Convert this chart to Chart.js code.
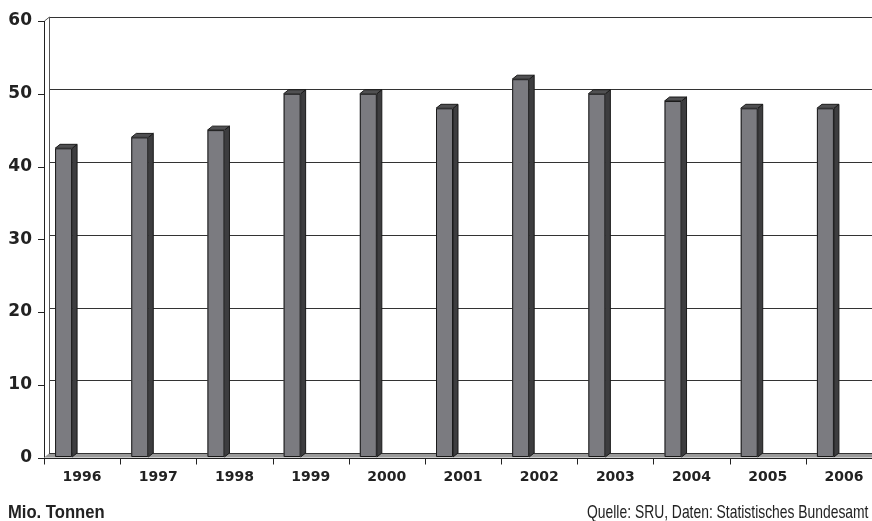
<!DOCTYPE html>
<html>
<head>
<meta charset="utf-8">
<script src="https://cdn.jsdelivr.net/npm/chart.js@4.4.1/dist/chart.umd.min.js"></script>
<style>
    html, body { margin: 0; padding: 0; background: #fff; }
    #wrap { position: relative; width: 872px; height: 521px; overflow: hidden; }
    #chart { position: absolute; left: 0; top: 0; }
    .note { position: absolute; top: 501px; font-family: "Liberation Sans Narrow", "Liberation Sans", Arial, sans-serif; font-size: 19px; line-height: 22px; color: #222; white-space: nowrap; }
    #unit { left: 8px; font-weight: bold; transform: scaleX(0.875); transform-origin: left center; }
    #source { right: 4px; transform: scaleX(0.73); transform-origin: right center; }
</style>
</head>
<body>
<div id="wrap">
    <canvas id="chart" width="887" height="521"></canvas>
    <div class="note" id="unit">Mio. Tonnen</div>
    <div class="note" id="source">Quelle: SRU, Daten: Statistisches Bundesamt</div>
</div>
<script>
const years = ['1996', '1997', '1998', '1999', '2000', '2001', '2002', '2003', '2004', '2005', '2006'];
const tonnes = [42.5, 44, 45, 50, 50, 48, 52, 50, 49, 48, 48];
const yTicks = [0, 10, 20, 30, 40, 50, 60];

// 3D look: front plane sits left/down of the back wall
const DX = 5;
const DY = 4;
const BAR_SHIFT = -18.5;

const pseudo3d = {
    id: 'pseudo3d',
    beforeDatasetsDraw(chart) {
        const ctx = chart.ctx;
        const area = chart.chartArea;
        const yScale = chart.scales.y;
        const base = yScale.getPixelForValue(0);
        const top = yScale.getPixelForValue(60);
        ctx.save();

        // floor
        ctx.fillStyle = '#9a9a9a';
        ctx.beginPath();
        ctx.moveTo(area.left, base);
        ctx.lineTo(area.right + 20, base);
        ctx.lineTo(area.right + 20, base + DY);
        ctx.lineTo(area.left - DX, base + DY);
        ctx.closePath();
        ctx.fill();
        ctx.strokeStyle = '#333';
        ctx.lineWidth = 1;
        ctx.beginPath();
        ctx.moveTo(area.left, base);
        ctx.lineTo(area.right + 20, base);
        ctx.stroke();

        // back wall edge and front value axis
        ctx.strokeStyle = '#555';
        ctx.beginPath();
        ctx.moveTo(area.left + 0.5, top);
        ctx.lineTo(area.left + 0.5, base);
        ctx.moveTo(area.left - DX + 0.5, top + DY);
        ctx.lineTo(area.left + 0.5, top);
        ctx.stroke();
        ctx.strokeStyle = '#222';
        ctx.beginPath();
        ctx.moveTo(area.left - DX + 0.5, top + DY);
        ctx.lineTo(area.left - DX + 0.5, base + DY);
        yTicks.forEach(v => {
            const py = Math.round(yScale.getPixelForValue(v) + DY) + 0.5;
            ctx.moveTo(area.left - DX - 6, py);
            ctx.lineTo(area.left - DX, py);
        });
        ctx.stroke();

        // front category axis
        const axisY = Math.round(base + DY) + 0.5;
        ctx.beginPath();
        ctx.moveTo(area.left - DX, axisY);
        ctx.lineTo(area.right + 20, axisY);
        const step = (area.right - area.left) / years.length;
        for (let i = 0; i <= years.length; i++) {
            const px = Math.round(area.left + i * step - DX) + 0.5;
            ctx.moveTo(px, axisY);
            ctx.lineTo(px, axisY + 6);
        }
        ctx.stroke();
        ctx.restore();
    },
    afterDatasetsDraw(chart) {
        const ctx = chart.ctx;
        const meta = chart.getDatasetMeta(0);
        ctx.save();
        ctx.lineWidth = 1;
        ctx.strokeStyle = '#1a1a1a';
        ctx.lineJoin = 'round';
        meta.data.forEach(bar => {
            const { x, y, base, width } = bar.getProps(['x', 'y', 'base', 'width'], true);
            const L = x - width / 2 + BAR_SHIFT;
            const R = L + width;
            // right side
            ctx.fillStyle = '#3d3d3f';
            ctx.beginPath();
            ctx.moveTo(R - DX, y + DY);
            ctx.lineTo(R, y);
            ctx.lineTo(R, base);
            ctx.lineTo(R - DX, base + DY);
            ctx.closePath();
            ctx.fill();
            ctx.stroke();
            // top
            ctx.fillStyle = '#505052';
            ctx.beginPath();
            ctx.moveTo(L - DX, y + DY);
            ctx.lineTo(L, y);
            ctx.lineTo(R, y);
            ctx.lineTo(R - DX, y + DY);
            ctx.closePath();
            ctx.fill();
            ctx.stroke();
            // front
            ctx.fillStyle = '#7b7b80';
            ctx.fillRect(L - DX, y + DY, width, base - y);
            ctx.strokeRect(L - DX + 0.5, y + DY + 0.5, width - 1, base - y - 1);
        });
        ctx.restore();
    }
};

new Chart(document.getElementById('chart'), {
    type: 'bar',
    data: {
        labels: years,
        datasets: [{
            label: 'Mio. Tonnen',
            data: tonnes,
            backgroundColor: 'rgba(0,0,0,0)',
            borderWidth: 0,
            barThickness: 17
        }]
    },
    options: {
        responsive: false,
        animation: false,
        devicePixelRatio: 1,
        layout: { padding: { top: 17, left: 0, right: 0, bottom: 0 } },
        plugins: {
            legend: { display: false },
            tooltip: { enabled: false }
        },
        scales: {
            x: {
                grid: { display: false },
                border: { display: false },
                ticks: {
                    labelOffset: -DX,
                    padding: 7,
                    color: '#222',
                    font: { family: 'DejaVu Sans', size: 14, weight: 'bold' }
                },
                afterFit(scale) { scale.height = 67.5; }
            },
            y: {
                min: 0,
                max: 60,
                grid: { color: '#333', lineWidth: 1, drawTicks: true, tickLength: 17, tickColor: 'rgba(0,0,0,0)' },
                border: { display: false },
                ticks: {
                    stepSize: 10,
                    labelOffset: DY,
                    padding: 0,
                    color: '#222',
                    font: { family: 'DejaVu Sans', size: 17, weight: 'bold' }
                },
                afterFit(scale) { scale.width = 49; }
            }
        }
    },
    plugins: [pseudo3d]
});
</script>
</body>
</html>
